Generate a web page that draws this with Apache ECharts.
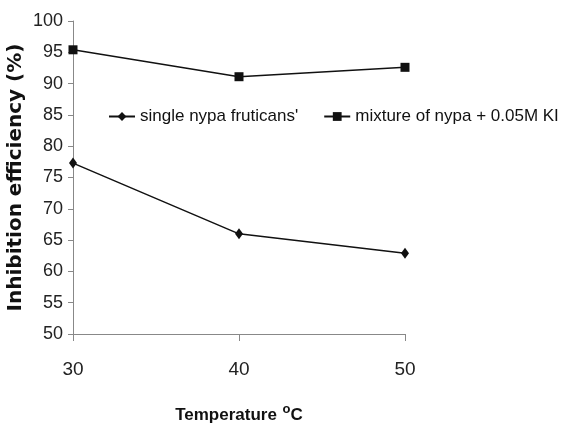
<!DOCTYPE html>
<html>
<head>
<meta charset="utf-8">
<script src="https://cdn.jsdelivr.net/npm/echarts@6/dist/echarts.min.js"></script>
<style>
html, body { margin: 0; padding: 0; background: #fff; }
#chart { width: 563px; height: 424px; }
</style>
</head>
<body>
<div id="chart"></div>
<script>
// data
var temps = ['30', '40', '50'];
var singleNypa = [77.3, 66.0, 62.9];
var mixtureKI = [95.4, 91.1, 92.6];
var yTicks = { min: 50, max: 100, step: 5 };

var myChart = echarts.init(document.getElementById('chart'));
var font = '"Liberation Sans", Arial, sans-serif';

var option = {
    backgroundColor: '#fff',
    animation: false,
    grid: {
        left: 73,
        right: 158,
        top: 21,
        bottom: 90,
        containLabel: false,
        outerBoundsMode: 'none'
    },
    legend: {
        left: 103,
        top: 103,
        width: 458,
        itemWidth: 26,
        itemHeight: 11,
        itemGap: 25,
        textStyle: {
            fontFamily: font,
            fontSize: 17,
            color: '#111'
        },
        data: ["single nypa fruticans'", 'mixture of nypa + 0.05M KI']
    },
    xAxis: {
        type: 'category',
        boundaryGap: false,
        data: temps,
        name: 'Temperature {sup|o}C',
        nameLocation: 'middle',
        nameGap: 69,
        nameMoveOverlap: false,
        nameTextStyle: {
            fontFamily: font,
            fontWeight: 'bold',
            fontSize: 17,
            color: '#111',
            rich: {
                sup: {
                    fontFamily: font,
                    fontWeight: 'bold',
                    fontSize: 13,
                    verticalAlign: 'top',
                    padding: [0, 0, 11, 1]
                }
            }
        },
        axisLine: { lineStyle: { color: '#888', width: 1 } },
        axisTick: { show: true, length: 7, lineStyle: { color: '#888' } },
        axisLabel: {
            margin: 26,
            fontFamily: font,
            fontSize: 19,
            color: '#222'
        },
        splitLine: { show: false }
    },
    yAxis: {
        type: 'value',
        min: yTicks.min,
        max: yTicks.max,
        interval: yTicks.step,
        name: 'Inhibition efficiency (%)',
        nameLocation: 'middle',
        nameGap: 47,
        nameMoveOverlap: false,
        nameTextStyle: {
            fontFamily: '"DejaVu Sans", sans-serif',
            fontWeight: 'bold',
            fontSize: 20,
            color: '#111'
        },
        axisLine: { show: true, lineStyle: { color: '#888', width: 1 } },
        axisTick: { show: true, length: 5, lineStyle: { color: '#888' } },
        axisLabel: {
            margin: 10,
            fontFamily: font,
            fontSize: 18,
            color: '#222'
        },
        splitLine: { show: false }
    },
    series: [
        {
            name: "single nypa fruticans'",
            type: 'line',
            data: singleNypa,
            symbol: 'diamond',
            symbolSize: [8, 11],
            itemStyle: { color: '#111' },
            lineStyle: { color: '#111', width: 1.5 }
        },
        {
            name: 'mixture of nypa + 0.05M KI',
            type: 'line',
            data: mixtureKI,
            symbol: 'rect',
            symbolSize: 9,
            itemStyle: { color: '#111' },
            lineStyle: { color: '#111', width: 1.5 }
        }
    ]
};

myChart.setOption(option);
</script>
</body>
</html>
